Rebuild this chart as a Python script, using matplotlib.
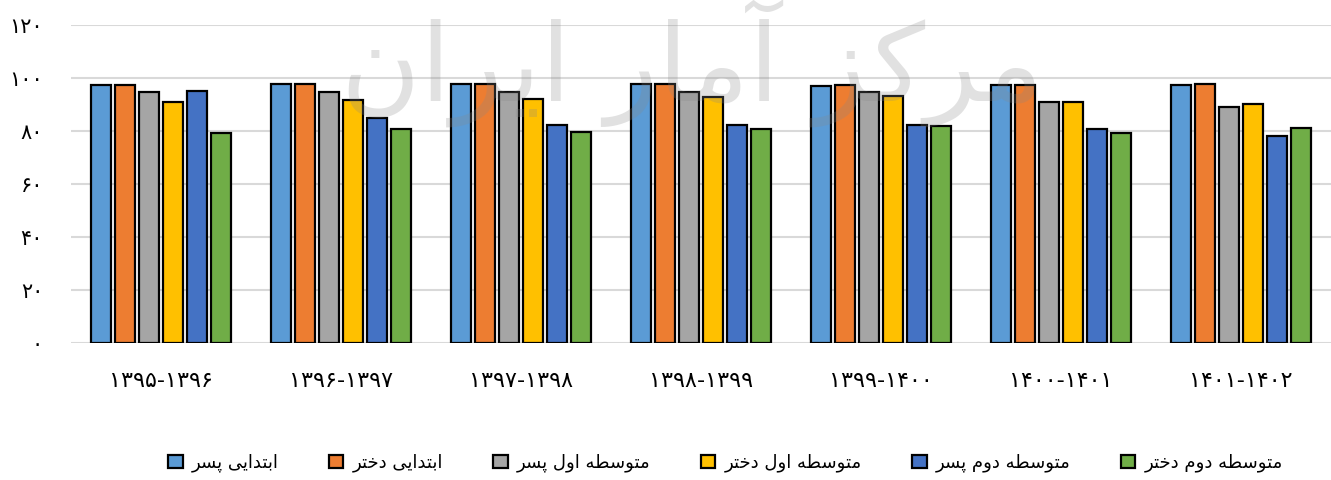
import matplotlib
matplotlib.use("Agg")
import matplotlib.pyplot as plt
import numpy as np

# data
years = ["۱۳۹۵-۱۳۹۶", "۱۳۹۶-۱۳۹۷", "۱۳۹۷-۱۳۹۸", "۱۳۹۸-۱۳۹۹",
         "۱۳۹۹-۱۴۰۰", "۱۴۰۰-۱۴۰۱", "۱۴۰۱-۱۴۰۲"]
series_names = ["ابتدایی پسر", "ابتدایی دختر", "متوسطه اول پسر",
                "متوسطه اول دختر", "متوسطه دوم پسر", "متوسطه دوم دختر"]
ebtedaei_pesar = [97.5, 97.7, 97.7, 97.8, 96.8, 97.2, 97.4]
ebtedaei_dokhtar = [97.4, 97.7, 97.8, 97.8, 97.2, 97.5, 97.7]
motavasete1_pesar = [94.6, 94.6, 94.6, 94.6, 94.6, 90.9, 89.2]
motavasete1_dokhtar = [91.1, 91.7, 92.2, 92.7, 93.1, 90.8, 90.3]
motavasete2_pesar = [95.1, 84.8, 82.4, 82.1, 82.3, 80.8, 78.3]
motavasete2_dokhtar = [79.4, 80.9, 79.6, 80.9, 81.9, 79.2, 81.0]
y_ticks = [0, 20, 40, 60, 80, 100, 120]

colors = ["#5B9BD5", "#ED7D31", "#A5A5A5", "#FFC000", "#4472C4", "#70AD47"]

# minimal Persian shaping (matplotlib has no bidi / joining support)
FORMS = {
    "ا": ("\uFE8D", "\uFE8E", None, None),
    "آ": ("\uFE81", "\uFE82", None, None),
    "ب": ("\uFE8F", "\uFE90", "\uFE91", "\uFE92"),
    "ت": ("\uFE95", "\uFE96", "\uFE97", "\uFE98"),
    "د": ("\uFEA9", "\uFEAA", None, None),
    "ر": ("\uFEAD", "\uFEAE", None, None),
    "ز": ("\uFEAF", "\uFEB0", None, None),
    "خ": ("\uFEA5", "\uFEA6", "\uFEA7", "\uFEA8"),
    "س": ("\uFEB1", "\uFEB2", "\uFEB3", "\uFEB4"),
    "ط": ("\uFEC1", "\uFEC2", "\uFEC3", "\uFEC4"),
    "ل": ("\uFEDD", "\uFEDE", "\uFEDF", "\uFEE0"),
    "م": ("\uFEE1", "\uFEE2", "\uFEE3", "\uFEE4"),
    "ن": ("\uFEE5", "\uFEE6", "\uFEE7", "\uFEE8"),
    "ه": ("\uFEE9", "\uFEEA", "\uFEEB", "\uFEEC"),
    "و": ("\uFEED", "\uFEEE", None, None),
    "پ": ("\uFB56", "\uFB57", "\uFB58", "\uFB59"),
    "ک": ("\uFB8E", "\uFB8F", "\uFB90", "\uFB91"),
    "ی": ("\uFBFC", "\uFBFD", "\uFBFE", "\uFBFF"),
}


def shape(text):
    out = []
    for word in text.split(" "):
        chars = list(word)
        res = []
        for i, c in enumerate(chars):
            f = FORMS.get(c)
            if f is None:
                res.append(c)
                continue
            prev = FORMS.get(chars[i - 1]) if i > 0 else None
            nxt = FORMS.get(chars[i + 1]) if i + 1 < len(chars) else None
            join_prev = prev is not None and prev[2] is not None
            join_next = nxt is not None and f[2] is not None
            if join_prev and join_next:
                res.append(f[3])
            elif join_prev:
                res.append(f[1])
            elif join_next:
                res.append(f[2])
            else:
                res.append(f[0])
        out.append("".join(reversed(res)))
    return " ".join(reversed(out))


plt.rcParams["font.family"] = ["DejaVu Sans"]

data = [ebtedaei_pesar, ebtedaei_dokhtar, motavasete1_pesar,
        motavasete1_dokhtar, motavasete2_pesar, motavasete2_dokhtar]

fig = plt.figure(figsize=(13.31, 4.8), dpi=100)
ax = fig.add_axes([0.0533, 0.285, 0.9467, 0.663])

x = np.arange(len(years))
pitch = 24 / 180
width = 20 / 180
for k, vals in enumerate(data):
    ax.bar(x + (k - 2.5) * pitch, vals, width, color=colors[k],
           edgecolor="black", linewidth=1.6, label=shape(series_names[k]),
           zorder=3)

ax.set_xlim(-0.5, len(years) - 0.5)
ax.set_ylim(0, 120)
ax.set_yticks(y_ticks)
fa_digits = str.maketrans("0123456789", "۰۱۲۳۴۵۶۷۸۹")
ax.set_yticklabels([str(v).translate(fa_digits) for v in y_ticks], fontsize=15)
ax.set_xticks(x)
ax.set_xticklabels(years, fontsize=16)
ax.tick_params(axis="both", length=0)
ax.tick_params(axis="x", pad=20)
ax.tick_params(axis="y", pad=20)
ax.grid(axis="y", color="#D9D9D9", linewidth=1.5, zorder=0)
for s in ax.spines.values():
    s.set_visible(False)

# watermark
fig.text(0.52, 0.87, shape("مرکز آمار ایران"), fontsize=78, color="#888888",
         alpha=0.25, ha="center", va="center", zorder=10)

fig.legend(loc="lower center", bbox_to_anchor=(0.545, -0.018), ncol=6,
           frameon=False, fontsize=13, handlelength=0.8, handleheight=0.8,
           columnspacing=2.8, handletextpad=0.5)

fig.savefig("out.png", dpi=100)
